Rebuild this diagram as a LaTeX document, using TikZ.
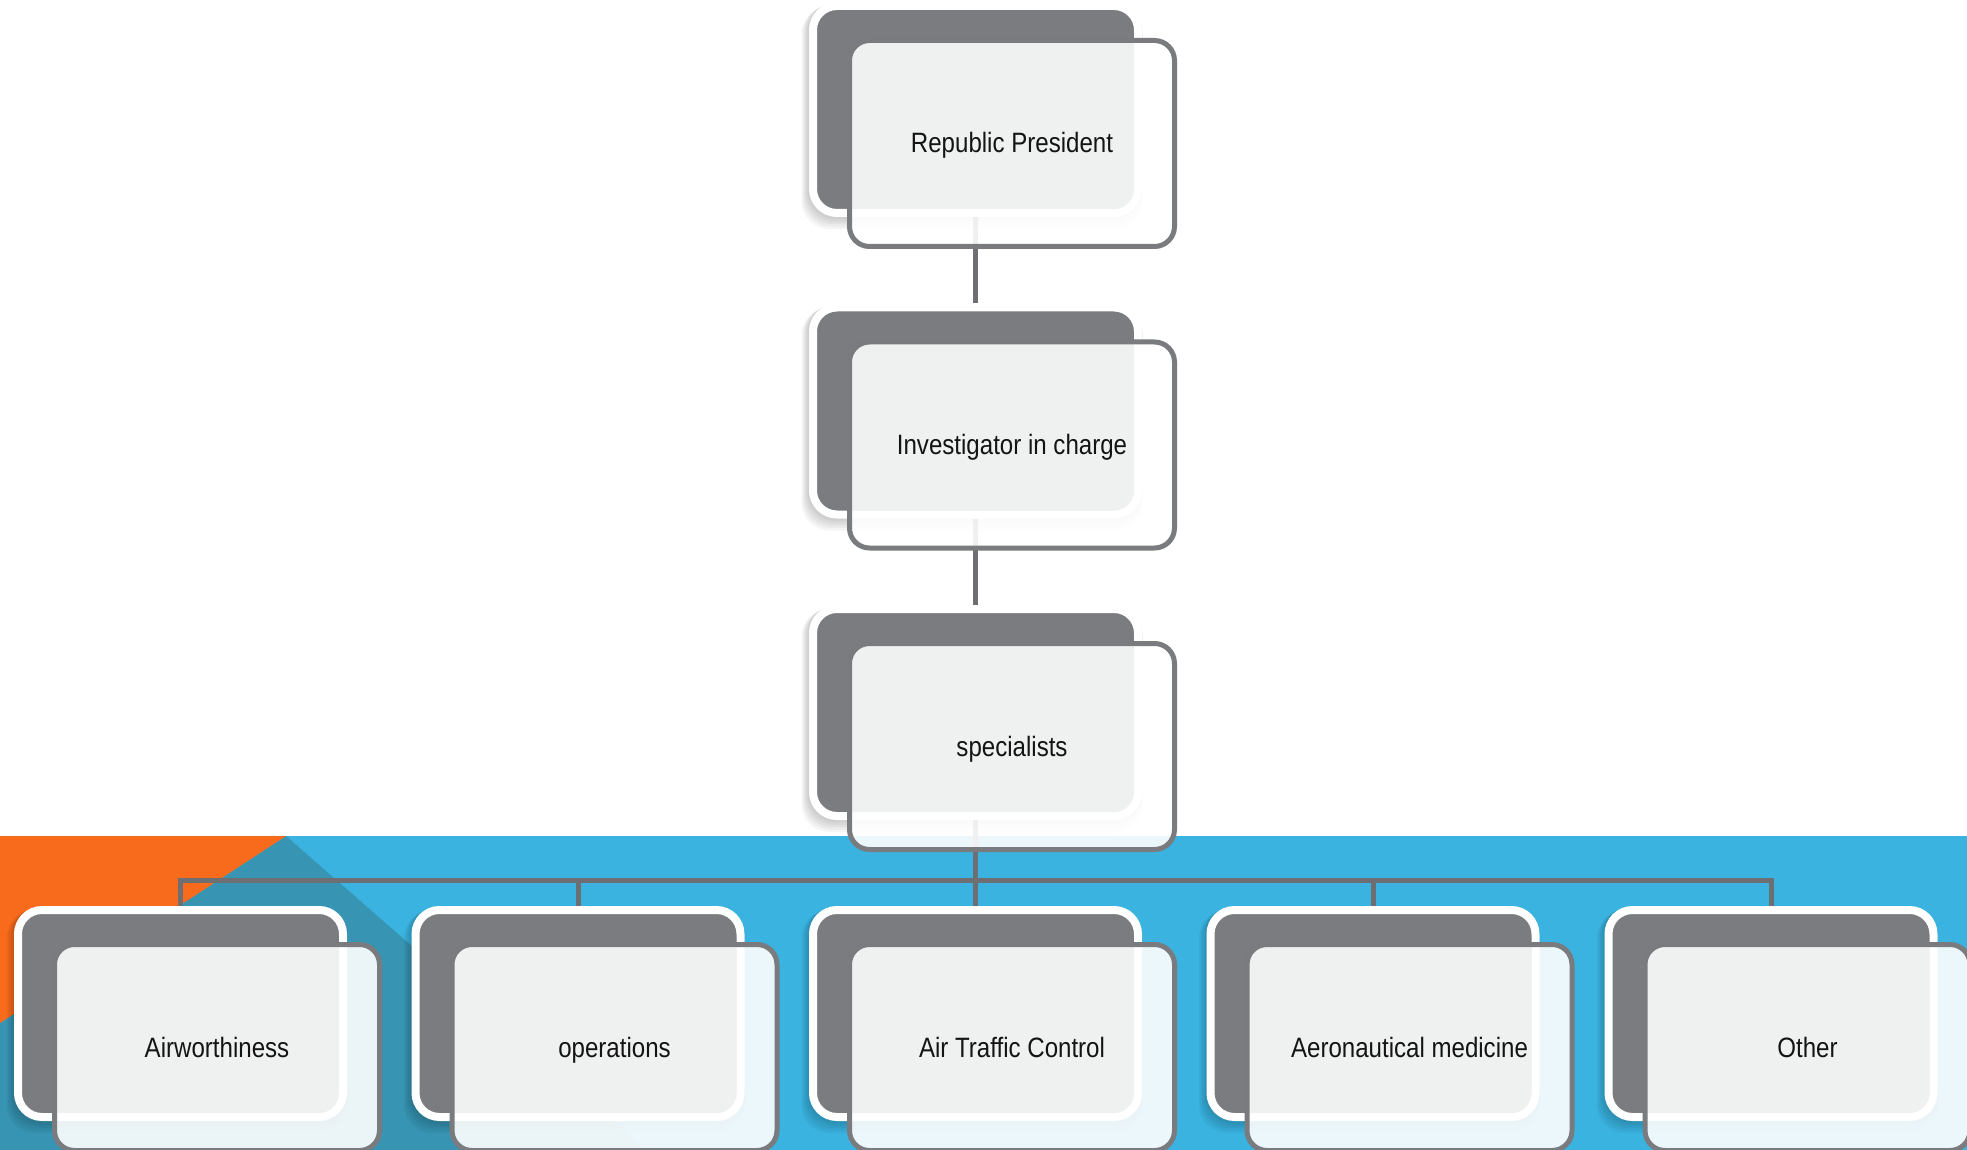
\documentclass[tikz,border=0pt]{standalone}
\usepackage{fontspec}
\setmainfont{Liberation Sans}[FakeStretch=0.86]
\pgfdeclarelayer{backdrop}
\pgfdeclarelayer{lines}
\pgfsetlayers{backdrop,lines,main}
\definecolor{darkbox}{RGB}{123,124,128}
\definecolor{linegray}{RGB}{110,111,115}
\definecolor{frontline}{RGB}{122,123,127}
\definecolor{paleface}{RGB}{239,241,240}
\definecolor{skyband}{RGB}{58,179,224}
\definecolor{tealband}{RGB}{55,148,179}
\definecolor{orangeband}{RGB}{248,107,29}
\definecolor{inktext}{RGB}{20,20,20}
\tikzset{
  backbox/.style={rectangle, rounded corners=12pt, fill=darkbox, draw=white,
    line width=4pt, minimum width=162.5pt, minimum height=103.5pt, inner sep=0pt},
  softshade/.style={fill=black, fill opacity=0.04, rounded corners=14pt},
  frontbox/.style={rectangle, rounded corners=10pt, draw=frontline, line width=2.5pt,
    minimum width=162.5pt, minimum height=103pt, inner sep=0pt,
    text height=12pt, text depth=2.5pt,
    font=\fontsize{14pt}{16pt}\selectfont, text=inktext},
  conn/.style={draw=linegray, line width=2.5pt},
}
\newcommand\orgunit[4]{%
  \foreach \k in {1,...,5}{
    \fill[softshade] (#2-166.5-\k*0.7-\k*0.8, #3-8+\k*1.6-\k*0.8)
      rectangle (#2+166.5-\k*0.7+\k*0.8, #3+207+\k*1.6+\k*0.8);
  }
  \node[backbox] (#1b) at (#2,#3+99.5) {};
  \fill[white, fill opacity=0.9, rounded corners=10pt] (#2-126,#3+30.5) rectangle (#2+199,#3+236.5);
  \begin{scope}
    \clip[rounded corners=10pt] (#2-158.5,#3) rectangle (#2+158.5,#3+199);
    \fill[paleface, rounded corners=10pt] (#2-126,#3+30.5) rectangle (#2+199,#3+236.5);
  \end{scope}
  \node[frontbox] (#1f) at (#2+36.5,#3+133.5) {#4};
}
\begin{document}
\begin{tikzpicture}[x=0.5pt,y=-0.5pt]
\useasboundingbox (0,0) rectangle (1967,1150);
\begin{pgfonlayer}{backdrop}
  \fill[white] (0,0) rectangle (1967,1150);
  \fill[skyband] (0,836) rectangle (1967,1150);
  \fill[tealband] (286,836) -- (645,1150) -- (0,1150) -- (0,1023) -- cycle;
  \fill[orangeband] (0,836) -- (286,836) -- (0,1023) -- cycle;
\end{pgfonlayer}

\orgunit{n1}{975.5}{10}{Republic President}
\orgunit{n2}{975.5}{311.5}{Investigator in charge}
\orgunit{n3}{975.5}{613}{specialists}
\orgunit{c1}{180.5}{914}{Airworthiness}
\orgunit{c2}{578}{914}{operations}
\orgunit{c3}{975.5}{914}{Air Traffic Control}
\orgunit{c4}{1373}{914}{Aeronautical medicine}
\orgunit{c5}{1771}{914}{Other}

\begin{pgfonlayer}{lines}
  \coordinate (bus) at (975.5,880);
  \draw[conn] (n1b.south) -- (n2b.north);
  \draw[conn] (n2b.south) -- (n3b.north);
  \draw[conn] (n3b.south) -- (bus);
  \draw[conn] (c1b.north) |- (c5b.north |- bus) -- (c5b.north);
  \draw[conn] (c2b.north |- bus) -- (c2b.north);
  \draw[conn] (c3b.north |- bus) -- (c3b.north);
  \draw[conn] (c4b.north |- bus) -- (c4b.north);
\end{pgfonlayer}
\end{tikzpicture}
\end{document}
